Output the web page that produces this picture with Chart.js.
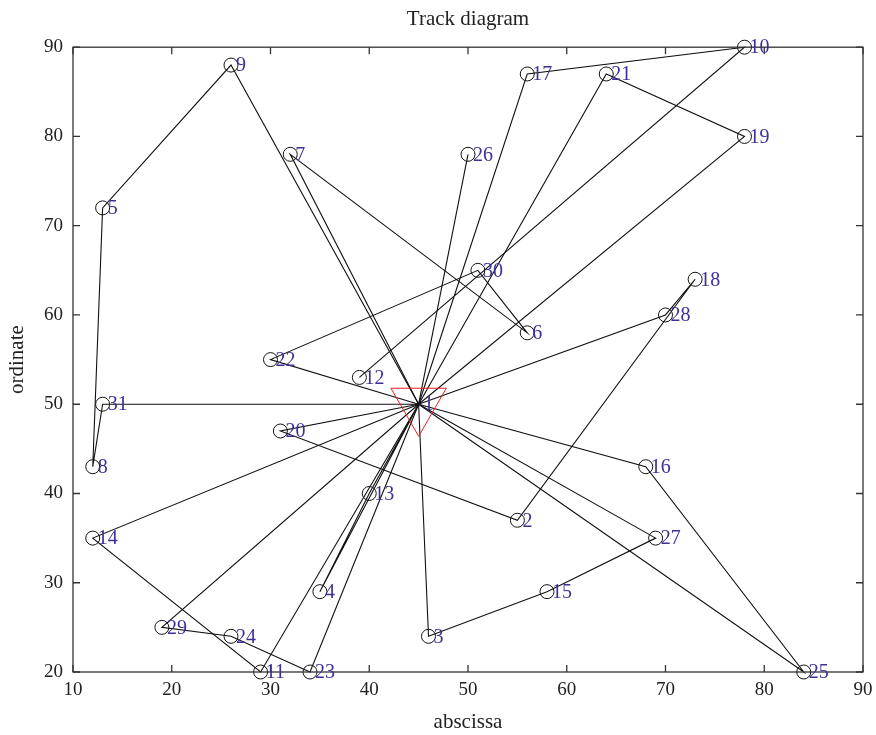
<!DOCTYPE html>
<html>
<head>
<meta charset="utf-8">
<script src="https://cdn.jsdelivr.net/npm/chart.js@4"></script>
<style>
  body { margin: 0; background: #fff; }
  canvas { display: block; }
</style>
</head>
<body>
<canvas id="trackChart" width="876" height="735"></canvas>
<script>
// node coordinates, node 1 is the depot
const nodeIds = [1, 2, 3, 4, 5, 6, 7, 8, 9, 10, 11, 12, 13, 14, 15, 16, 17, 18, 19, 20, 21, 22, 23, 24, 25, 26, 27, 28, 29, 30, 31];
const nodeX = [45, 55, 46, 35, 13, 56, 32, 12, 26, 78, 29, 39, 40, 12, 58, 68, 56, 73, 78, 31, 64, 30, 34, 26, 84, 50, 69, 70, 19, 51, 13];
const nodeY = [50, 37, 24, 29, 72, 58, 78, 43, 88, 90, 20, 53, 40, 35, 29, 43, 87, 64, 80, 47, 87, 55, 20, 24, 20, 78, 35, 60, 25, 65, 50];

// vehicle routes as node sequences
const route1 = [1, 9, 5, 8, 31, 1];
const route2 = [1, 7, 6, 30, 22, 1];
const route3 = [1, 21, 19, 1];
const route4 = [1, 17, 10, 12];
const route5 = [1, 26];
const route6 = [1, 28, 18, 2, 20, 1];
const route7 = [1, 16, 25, 1];
const route8 = [1, 27, 15, 3, 1];
const route9 = [1, 14, 11, 1];
const route10 = [1, 29, 24, 23, 1];
const route11 = [1, 13, 4, 1];
const routes = [route1, route2, route3, route4, route5, route6, route7, route8, route9, route10, route11];

const xTicks = [10, 20, 30, 40, 50, 60, 70, 80, 90];
const yTicks = [20, 30, 40, 50, 60, 70, 80, 90];

const SERIF = '"Liberation Serif", "DejaVu Serif", serif';
const labelColor = '#3b3199';
const frameColor = '#333';

const pointOf = id => ({ x: nodeX[id - 1], y: nodeY[id - 1] });

// datasets: depot first so it ends up on top
const datasets = [];
datasets.push({
    label: 'depot',
    data: [pointOf(1)],
    pointStyle: 'triangle',
    rotation: 180,
    pointRadius: 32,
    pointBorderColor: '#ee1c1c',
    pointBackgroundColor: 'rgba(0,0,0,0)',
    pointBorderWidth: 1,
    clip: false,
    order: 0
});
datasets.push({
    label: 'customers',
    data: nodeIds.slice(1).map(pointOf),
    pointStyle: 'circle',
    pointRadius: 7,
    pointBorderColor: '#111',
    pointBackgroundColor: 'rgba(0,0,0,0)',
    pointBorderWidth: 1,
    clip: false,
    order: 1
});
routes.forEach((r, i) => {
    datasets.push({
        label: 'route ' + (i + 1),
        data: r.map(pointOf),
        showLine: true,
        borderColor: '#111',
        borderWidth: 1.1,
        pointRadius: 0,
        tension: 0,
        clip: false,
        order: 2
    });
});

// inward tick marks and box frame, MATLAB style
const framePlugin = {
    id: 'frame',
    afterDatasetsDraw(chart) {
        const { ctx, chartArea: a, scales } = chart;
        const len = 7;
        ctx.save();
        ctx.strokeStyle = frameColor;
        ctx.lineWidth = 1.3;
        ctx.beginPath();
        xTicks.forEach(v => {
            const px = scales.x.getPixelForValue(v);
            ctx.moveTo(px, a.bottom); ctx.lineTo(px, a.bottom - len);
            ctx.moveTo(px, a.top); ctx.lineTo(px, a.top + len);
        });
        yTicks.forEach(v => {
            const py = scales.y.getPixelForValue(v);
            ctx.moveTo(a.left, py); ctx.lineTo(a.left + len, py);
            ctx.moveTo(a.right, py); ctx.lineTo(a.right - len, py);
        });
        ctx.stroke();
        ctx.strokeRect(a.left, a.top, a.right - a.left, a.bottom - a.top);
        ctx.restore();
    }
};

// node numbers next to each marker
const nodeLabelPlugin = {
    id: 'nodeLabels',
    afterDatasetsDraw(chart) {
        const { ctx } = chart;
        ctx.save();
        ctx.font = '20px ' + SERIF;
        ctx.fillStyle = labelColor;
        ctx.textAlign = 'left';
        ctx.textBaseline = 'middle';
        const depot = chart.getDatasetMeta(0).data[0];
        ctx.fillText(String(nodeIds[0]), depot.x + 5, depot.y + 1);
        chart.getDatasetMeta(1).data.forEach((el, i) => {
            ctx.fillText(String(nodeIds[i + 1]), el.x + 5, el.y + 1);
        });
        ctx.restore();
    }
};

new Chart(document.getElementById('trackChart').getContext('2d'), {
    type: 'scatter',
    data: { datasets },
    plugins: [framePlugin, nodeLabelPlugin],
    options: {
        responsive: false,
        animation: false,
        devicePixelRatio: 1,
        layout: { autoPadding: false, padding: { left: 0, right: 13, top: 0, bottom: 0 } },
        scales: {
            x: {
                type: 'linear',
                min: 10,
                max: 90,
                afterBuildTicks: s => { s.ticks = xTicks.map(v => ({ value: v })); },
                afterFit: s => { s.height = 63; s.paddingLeft = 0; s.paddingRight = 0; },
                grid: { display: false, drawTicks: false },
                border: { display: false },
                ticks: { color: '#222', font: { family: SERIF, size: 19 }, padding: 7, maxRotation: 0 },
                title: { display: true, text: 'abscissa', color: '#222', font: { family: SERIF, size: 21 }, padding: { top: 0, bottom: 0 } }
            },
            y: {
                type: 'linear',
                min: 20,
                max: 90,
                afterBuildTicks: s => { s.ticks = yTicks.map(v => ({ value: v })); },
                afterFit: s => { s.width = 73; s.paddingTop = 0; s.paddingBottom = 0; },
                grid: { display: false, drawTicks: false },
                border: { display: false },
                ticks: { color: '#222', font: { family: SERIF, size: 19 }, padding: 10 },
                title: { display: true, text: 'ordinate', color: '#222', font: { family: SERIF, size: 21 }, padding: { top: 5, bottom: 0 } }
            }
        },
        plugins: {
            legend: { display: false },
            tooltip: { enabled: false },
            title: {
                display: true,
                fullSize: false,
                text: 'Track diagram',
                color: '#222',
                font: { family: SERIF, size: 21, weight: 'normal' },
                padding: { top: 7, bottom: 15 }
            }
        }
    }
});
</script>
</body>
</html>
